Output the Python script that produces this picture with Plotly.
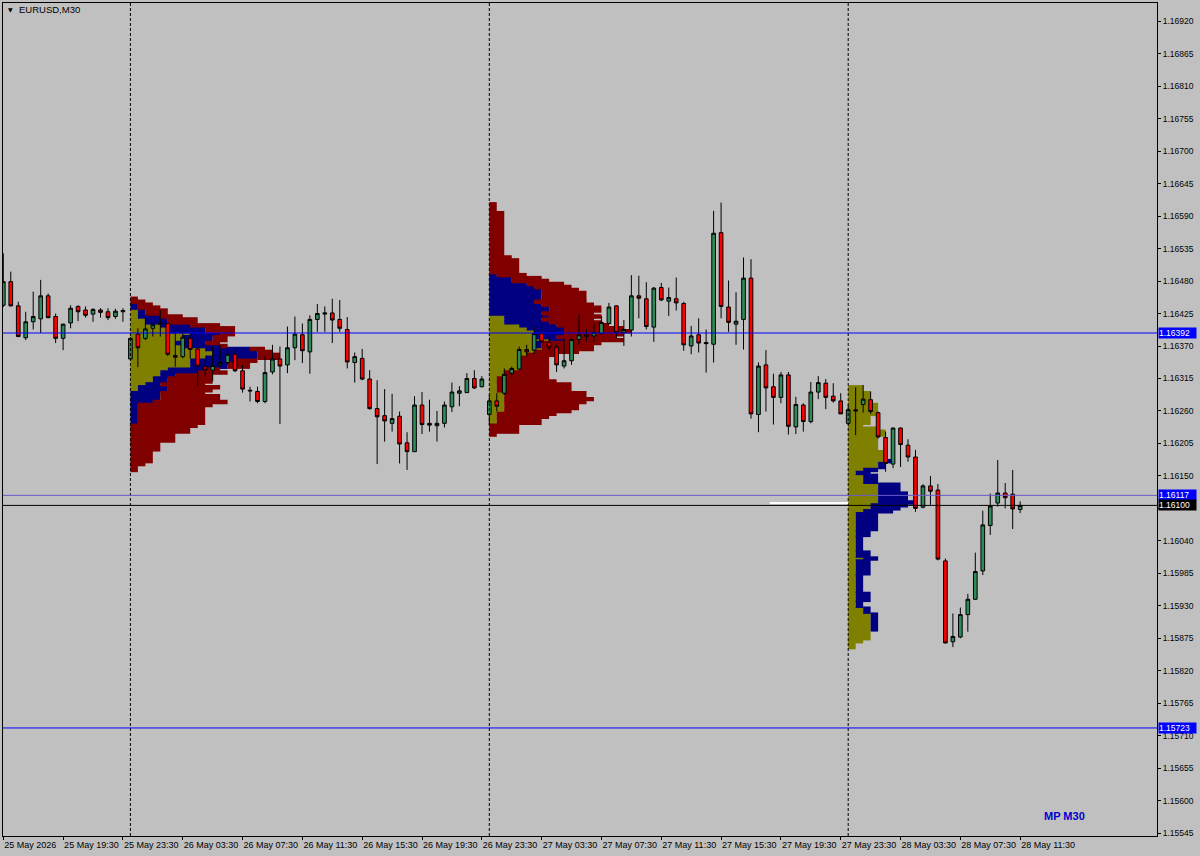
import math
import plotly.graph_objects as go

# ---------------- data ----------------
bar_open = [1.16439, 1.16479, 1.16438, 1.16384, 1.16411, 1.16416, 1.16455, 1.16420, 1.16383, 1.16409,
            1.16437, 1.16431, 1.16424, 1.16431, 1.16428, 1.16420, 1.16428, 1.16348, 1.16390, 1.16383,
            1.16400, 1.16407, 1.16408, 1.16354, 1.16352, 1.16383, 1.16365, 1.16335, 1.16329, 1.16338,
            1.16342, 1.16356, 1.16328, 1.16295, 1.16293, 1.16276, 1.16326, 1.16348, 1.16338, 1.16367,
            1.16389, 1.16360, 1.16415, 1.16424, 1.16426, 1.16415, 1.16398, 1.16342, 1.16349, 1.16314,
            1.16264, 1.16252, 1.16239, 1.16251, 1.16206, 1.16191, 1.16270, 1.16239, 1.16235, 1.16239,
            1.16267, 1.16290, 1.16291, 1.16315, 1.16301, 1.16254, 1.16277, 1.16290, 1.16324, 1.16331,
            1.16364, 1.16363, 1.16391, 1.16376, 1.16368, 1.16336, 1.16345, 1.16381, 1.16389, 1.16387,
            1.16391, 1.16408, 1.16438, 1.16393, 1.16397, 1.16455, 1.16450, 1.16402, 1.16469, 1.16446,
            1.16450, 1.16442, 1.16370, 1.16389, 1.16376, 1.16373, 1.16562, 1.16436, 1.16407, 1.16415,
            1.16485, 1.16254, 1.16338, 1.16301, 1.16283, 1.16321, 1.16233, 1.16270, 1.16242, 1.16292,
            1.16307, 1.16285, 1.16277, 1.16239, 1.16262, 1.16271, 1.16279, 1.16257, 1.16215, 1.16170,
            1.16231, 1.16202, 1.16182, 1.16097, 1.16133, 1.16126, 1.16006, 1.15869, 1.15877, 1.15915,
            1.15941, 1.15989, 1.16066, 1.16104, 1.16121, 1.16119, 1.16093]
bar_high = [1.16527, 1.16496, 1.16445, 1.16428, 1.16462, 1.16482, 1.16459, 1.16425, 1.16408, 1.16439,
            1.16439, 1.16437, 1.16434, 1.16434, 1.16434, 1.16433, 1.16434, 1.16385, 1.16400, 1.16417,
            1.16408, 1.16431, 1.16409, 1.16394, 1.16394, 1.16391, 1.16369, 1.16347, 1.16369, 1.16372,
            1.16366, 1.16363, 1.16338, 1.16301, 1.16301, 1.16353, 1.16372, 1.16369, 1.16403, 1.16420,
            1.16408, 1.16422, 1.16441, 1.16437, 1.16450, 1.16448, 1.16419, 1.16359, 1.16365, 1.16329,
            1.16312, 1.16297, 1.16289, 1.16259, 1.16224, 1.16285, 1.16292, 1.16279, 1.16260, 1.16276,
            1.16308, 1.16302, 1.16324, 1.16329, 1.16319, 1.16287, 1.16290, 1.16332, 1.16335, 1.16369,
            1.16372, 1.16403, 1.16406, 1.16386, 1.16372, 1.16383, 1.16383, 1.16424, 1.16398, 1.16408,
            1.16421, 1.16443, 1.16439, 1.16414, 1.16490, 1.16489, 1.16478, 1.16470, 1.16477, 1.16469,
            1.16486, 1.16445, 1.16404, 1.16417, 1.16398, 1.16599, 1.16613, 1.16481, 1.16461, 1.16520,
            1.16517, 1.16342, 1.16363, 1.16323, 1.16326, 1.16326, 1.16284, 1.16273, 1.16309, 1.16319,
            1.16314, 1.16307, 1.16290, 1.16270, 1.16300, 1.16304, 1.16293, 1.16259, 1.16225, 1.16232,
            1.16232, 1.16212, 1.16194, 1.16136, 1.16150, 1.16136, 1.16010, 1.15917, 1.15927, 1.15950,
            1.16020, 1.16091, 1.16120, 1.16177, 1.16138, 1.16160, 1.16107]
bar_low = [1.16436, 1.16437, 1.16385, 1.16380, 1.16398, 1.16392, 1.16417, 1.16375, 1.16363, 1.16400,
           1.16412, 1.16418, 1.16411, 1.16418, 1.16414, 1.16416, 1.16411, 1.16346, 1.16334, 1.16380,
           1.16386, 1.16386, 1.16353, 1.16335, 1.16349, 1.16349, 1.16301, 1.16318, 1.16310, 1.16334,
           1.16338, 1.16326, 1.16291, 1.16276, 1.16273, 1.16273, 1.16322, 1.16238, 1.16324, 1.16346,
           1.16341, 1.16323, 1.16394, 1.16394, 1.16375, 1.16394, 1.16332, 1.16308, 1.16312, 1.16262,
           1.16170, 1.16208, 1.16225, 1.16171, 1.16160, 1.16191, 1.16221, 1.16225, 1.16208, 1.16232,
           1.16258, 1.16268, 1.16291, 1.16297, 1.16300, 1.16236, 1.16259, 1.16287, 1.16318, 1.16329,
           1.16352, 1.16356, 1.16375, 1.16363, 1.16326, 1.16332, 1.16338, 1.16373, 1.16378, 1.16377,
           1.16390, 1.16406, 1.16383, 1.16370, 1.16386, 1.16417, 1.16398, 1.16377, 1.16446, 1.16421,
           1.16430, 1.16362, 1.16356, 1.16359, 1.16325, 1.16342, 1.16417, 1.16394, 1.16372, 1.16364,
           1.16247, 1.16224, 1.16259, 1.16237, 1.16273, 1.16220, 1.16221, 1.16225, 1.16239, 1.16280,
           1.16263, 1.16274, 1.16255, 1.16236, 1.16219, 1.16257, 1.16255, 1.16213, 1.16157, 1.16163,
           1.16165, 1.16174, 1.16089, 1.16095, 1.16101, 1.16007, 1.15866, 1.15860, 1.15875, 1.15886,
           1.15940, 1.15982, 1.16050, 1.16098, 1.16095, 1.16060, 1.16087]
bar_close = [1.16479, 1.16438, 1.16386, 1.16411, 1.16420, 1.16455, 1.16418, 1.16383, 1.16407, 1.16434,
             1.16428, 1.16422, 1.16432, 1.16427, 1.16418, 1.16429, 1.16430, 1.16383, 1.16367, 1.16399,
             1.16406, 1.16409, 1.16356, 1.16351, 1.16385, 1.16364, 1.16336, 1.16329, 1.16337, 1.16342,
             1.16356, 1.16328, 1.16297, 1.16294, 1.16276, 1.16325, 1.16348, 1.16336, 1.16367, 1.16390,
             1.16362, 1.16415, 1.16425, 1.16426, 1.16414, 1.16400, 1.16343, 1.16352, 1.16314, 1.16264,
             1.16250, 1.16243, 1.16247, 1.16204, 1.16191, 1.16270, 1.16237, 1.16236, 1.16239, 1.16270,
             1.16292, 1.16294, 1.16315, 1.16299, 1.16314, 1.16277, 1.16268, 1.16322, 1.16332, 1.16364,
             1.16360, 1.16391, 1.16377, 1.16368, 1.16338, 1.16345, 1.16381, 1.16389, 1.16386, 1.16393,
             1.16410, 1.16436, 1.16393, 1.16398, 1.16455, 1.16451, 1.16403, 1.16468, 1.16448, 1.16452,
             1.16443, 1.16372, 1.16387, 1.16375, 1.16374, 1.16561, 1.16437, 1.16410, 1.16412, 1.16485,
             1.16255, 1.16336, 1.16299, 1.16283, 1.16321, 1.16234, 1.16271, 1.16242, 1.16292, 1.16308,
             1.16283, 1.16277, 1.16255, 1.16262, 1.16260, 1.16280, 1.16259, 1.16216, 1.16171, 1.16231,
             1.16203, 1.16182, 1.16095, 1.16133, 1.16124, 1.16009, 1.15867, 1.15878, 1.15915, 1.15941,
             1.15988, 1.16067, 1.16099, 1.16121, 1.16113, 1.16094, 1.16100]

x_tick_bars = [0, 8, 16, 24, 32, 40, 48, 56, 64, 72, 80, 88, 96, 104, 112, 120, 128, 136]
x_tick_labels = ["25 May 2026", "25 May 19:30", "25 May 23:30", "26 May 03:30", "26 May 07:30",
                 "26 May 11:30", "26 May 15:30", "26 May 19:30", "26 May 23:30", "27 May 03:30",
                 "27 May 07:30", "27 May 11:30", "27 May 15:30", "27 May 19:30", "27 May 23:30",
                 "28 May 03:30", "28 May 07:30", "28 May 11:30"]
y_tick_values = [1.16920, 1.16865, 1.16810, 1.16755, 1.16700, 1.16645, 1.16590, 1.16535, 1.16480,
                 1.16425, 1.16370, 1.16315, 1.16260, 1.16205, 1.16150, 1.16095, 1.16040, 1.15985,
                 1.15930, 1.15875, 1.15820, 1.15765, 1.15710, 1.15655, 1.15600, 1.15545]
y_tick_hidden = [1.16095]   # covered by the bid-price label in the reference

day_start_bars = [17, 65, 113]          # 26 May 00:00, 27 May 00:00, 28 May 00:00
bars_per_day = 48
session_lengths = [16, 10, 22]         # TPO sessions: 00:00-08:00, 08:00-13:00, 13:00-24:00
session_colors = ["#808000", "#000080", "#800000"]
profile_step = 0.00005

level_prices = [1.16392, 1.16117, 1.15723]
level_colors = ["#0000FF", "#6A5ACD", "#0000FF"]
bid_price = 1.16100
white_level = 1.16104
white_span = [102.5, 113]

# ---------------- figure ----------------
n = len(bar_open)
bars_x = list(range(n))
fig = go.Figure()

# market profiles: TPO counts per price row, coloured by session,
# consecutive identical rows merged into one rectangle
for s_idx, col in enumerate(session_colors):
    ys, xs, bases, widths = [], [], [], []
    for start in day_start_bars:
        end = min(start + bars_per_day, n)
        lo = min(bar_low[start:end])
        hi = max(bar_high[start:end])
        i0 = math.floor(lo / profile_step + 1e-6)
        i1 = math.ceil(hi / profile_step - 1e-6)
        s_bounds = []
        b = start
        for L in session_lengths:
            s_bounds.append((b, min(b + L, end)))
            b += L
        rows = []
        for i in range(i0, i1 + 1):
            p = round(i * profile_step, 6)
            counts = [sum(1 for k in range(a, e)
                          if bar_low[k] <= p + 1e-9 and bar_high[k] >= p - 1e-9)
                      for (a, e) in s_bounds]
            rows.append((p, start + sum(counts[:s_idx]), counts[s_idx]))
        run = None
        for p, base, cnt in rows + [(None, None, 0)]:
            key = (base, cnt) if cnt > 0 else None
            if run is not None and key == run[2] and p is not None:
                run[1] = p
                continue
            if run is not None and run[2] is not None:
                p_lo, p_hi, (rb, rc) = run
                ys.append((p_lo + p_hi) / 2)
                widths.append(p_hi - p_lo + profile_step * 1.5)
                bases.append(rb)
                xs.append(rc)
            run = [p, p, key] if key is not None else None
    fig.add_trace(go.Bar(orientation="h", y=ys, x=xs, base=bases, width=widths,
                         marker=dict(color=col, line=dict(width=0)), hoverinfo="skip"))

fig.add_trace(go.Candlestick(
    x=bars_x, open=bar_open, high=bar_high, low=bar_low, close=bar_close,
    increasing=dict(line=dict(color="black", width=1), fillcolor="#2E8B57"),
    decreasing=dict(line=dict(color="black", width=1), fillcolor="#FF0000"),
    whiskerwidth=0, hoverinfo="skip"))

shapes = []
for start in day_start_bars:
    shapes.append(dict(type="line", xref="x", yref="paper", x0=start, x1=start, y0=0, y1=1,
                       line=dict(color="black", width=1, dash="3px,2px"), layer="above"))
for p, c in zip(level_prices, level_colors):
    shapes.append(dict(type="line", xref="paper", yref="y", x0=0, x1=1, y0=p, y1=p,
                       line=dict(color=c, width=1), layer="above"))
shapes.append(dict(type="line", xref="paper", yref="y", x0=0, x1=1, y0=bid_price, y1=bid_price,
                   line=dict(color="black", width=1), layer="above"))
shapes.append(dict(type="line", xref="x", yref="y", x0=white_span[0], x1=white_span[1],
                   y0=white_level, y1=white_level, line=dict(color="white", width=2), layer="above"))

annotations = []
for p in level_prices:
    annotations.append(dict(xref="paper", yref="y", x=1, y=p, xanchor="left", yanchor="middle",
                            xshift=1, text=f"{p:.5f}", showarrow=False, bgcolor="#0000FF",
                            font=dict(family="Liberation Sans", size=8.5, color="white"),
                            width=37, height=10, align="left", borderpad=0))
annotations.append(dict(xref="paper", yref="y", x=1, y=bid_price, xanchor="left", yanchor="middle",
                        xshift=1, text=f"{bid_price:.5f}", showarrow=False, bgcolor="#000000",
                        font=dict(family="Liberation Sans", size=8.5, color="white"),
                        width=37, height=10, align="left", borderpad=0))
annotations.append(dict(xref="paper", yref="paper", x=0.0025, y=0.9922, xanchor="left", yanchor="middle",
                        text="▼", showarrow=False, font=dict(family="DejaVu Sans", size=6, color="#000000")))
annotations.append(dict(xref="paper", yref="paper", x=0.0121, y=0.9922, xanchor="left", yanchor="middle",
                        text="EURUSD,M30", showarrow=False,
                        font=dict(family="Liberation Sans", size=9.5, color="#000000")))
annotations.append(dict(xref="paper", yref="paper", x=0.9198, y=0.0246, xanchor="center", yanchor="middle",
                        text="<b>MP M30</b>", showarrow=False,
                        font=dict(family="Liberation Sans", size=11, color="#0000CD")))

fig.update_layout(
    width=1200, height=856,
    margin=dict(l=3, r=43, t=3, b=20, autoexpand=False),
    paper_bgcolor="#C0C0C0", plot_bgcolor="#C0C0C0",
    showlegend=False, barmode="overlay", hovermode=False,
    shapes=shapes, annotations=annotations,
    xaxis=dict(range=[-0.04, 154.3], showgrid=False, zeroline=False, automargin=False,
               rangeslider=dict(visible=False),
               tickmode="array", tickvals=x_tick_bars, ticktext=x_tick_labels, tickangle=0,
               ticks="outside", ticklen=3, tickcolor="black", tickwidth=1,
               ticklabelposition="outside right",
               tickfont=dict(family="Liberation Sans", size=9, color="black"),
               showline=True, linecolor="black", linewidth=1, mirror=True),
    yaxis=dict(range=[1.15540, 1.16951], side="right", showgrid=False, zeroline=False, automargin=False,
               tickmode="array", tickvals=y_tick_values,
               ticktext=["" if v in y_tick_hidden else f"{v:.5f}" for v in y_tick_values],
               ticks="outside", ticklen=3, tickcolor="black", tickwidth=1,
               tickfont=dict(family="Liberation Sans", size=8.5, color="black"),
               showline=True, linecolor="black", linewidth=1, mirror=True),
)

fig.write_html("out.html", config={"displayModeBar": False, "staticPlot": True},
               post_script="document.body.style.margin='0';document.body.style.padding='0';"
                           "document.body.style.background='#C0C0C0';")
